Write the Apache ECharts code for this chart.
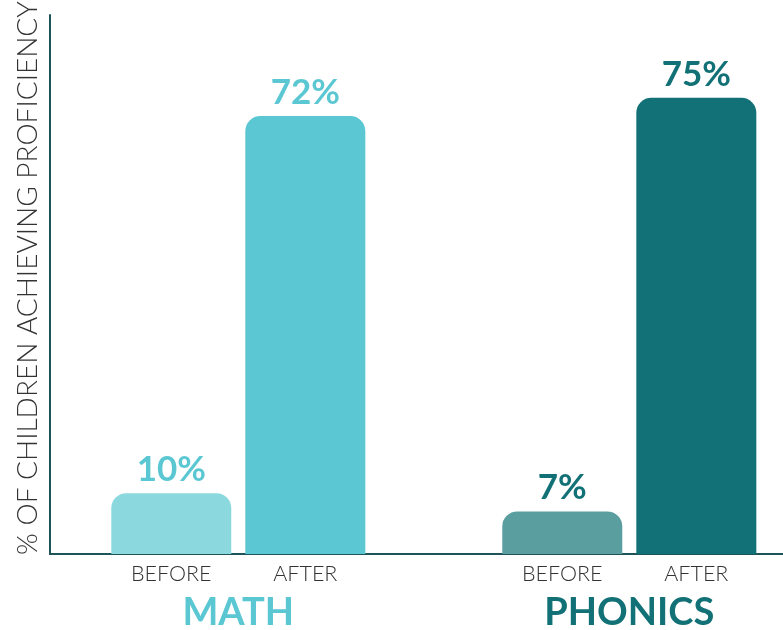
<!DOCTYPE html>
<html>
<head>
<meta charset="utf-8">
<script src="https://cdn.jsdelivr.net/npm/echarts@6/dist/echarts.min.js"></script>
<style>
html,body{margin:0;padding:0;background:#fff;}
#chart{width:783px;height:630px;}
</style>
</head>
<body>
<div id="chart"></div>
<script>
// ---- data ----
var groups = ['MATH', 'PHONICS'];
var phases = ['BEFORE', 'AFTER'];
var beforeValues = [10, 7];
var afterValues = [72, 75];
var yAxisTitle = '% OF CHILDREN ACHIEVING PROFICIENCY';

// ---- styles ----
var beforeColors = ['#8bd9df', '#5a9ea0'];
var afterColors = ['#5ac7d2', '#127176'];
var groupColors = ['#5ac7d2', '#127176'];
var axisColor = '#1e5357';
var yMax = 88.6;

function items(values, colors) {
  return values.map(function (v, i) {
    return { value: v, itemStyle: { color: colors[i] }, label: { color: groupColors[i] } };
  });
}

var rich = {
  ph: { width: 134, align: 'center', fontSize: 21.5, fontWeight: 300, fontFamily: 'Lato', color: '#333', lineHeight: 30 }
};
groups.forEach(function (g, i) {
  rich['g' + i] = { fontSize: 38, fontWeight: 'bold', fontFamily: 'Lato', color: groupColors[i], lineHeight: 48 };
});

var labelCfg = {
  show: true, position: 'top', distance: 6,
  formatter: '{c}%', fontSize: 35, fontWeight: 'bold', fontFamily: 'Lato'
};

var chart = echarts.init(document.getElementById('chart'), null, { renderer: 'canvas' });
chart.setOption({
  animation: false,
  grid: [
    { left: 42.8, width: 782, top: 15, bottom: 76, outerBoundsMode: 'none', containLabel: false },
    { left: 50, right: 0, top: 15, bottom: 76, outerBoundsMode: 'none', containLabel: false }
  ],
  xAxis: [
    {
      type: 'category', gridIndex: 0, data: groups,
      axisLine: { show: false }, axisTick: { show: false },
      axisLabel: {
        margin: 5,
        formatter: function (v, i) {
          return phases.map(function (p) { return '{ph|' + p + '}'; }).join('') + '\n{g' + i + '|' + v + '}';
        },
        rich: rich
      }
    },
    {
      type: 'value', gridIndex: 1, min: 0, max: 1,
      axisLine: { show: true, lineStyle: { color: axisColor, width: 2 } },
      axisTick: { show: false }, axisLabel: { show: false }, splitLine: { show: false }
    }
  ],
  yAxis: [
    {
      type: 'value', gridIndex: 0, min: 0, max: yMax,
      axisLine: { show: false }, axisTick: { show: false }, axisLabel: { show: false }, splitLine: { show: false }
    },
    {
      type: 'value', gridIndex: 1, min: 0, max: yMax,
      axisLine: { show: true, lineStyle: { color: axisColor, width: 2 } },
      axisTick: { show: false }, axisLabel: { show: false }, splitLine: { show: false },
      name: yAxisTitle, nameLocation: 'middle', nameRotate: 90, nameGap: 8,
      nameTextStyle: { fontSize: 28, fontWeight: 300, fontFamily: 'Lato', color: '#333', padding: [0, 0, 0, 13] }
    }
  ],
  series: [
    {
      name: phases[0], type: 'bar', xAxisIndex: 0, yAxisIndex: 0,
      barWidth: 120, barGap: '11.7%',
      itemStyle: { borderRadius: [15, 15, 0, 0] },
      label: labelCfg,
      data: items(beforeValues, beforeColors)
    },
    {
      name: phases[1], type: 'bar', xAxisIndex: 0, yAxisIndex: 0,
      barWidth: 120, barGap: '11.7%',
      itemStyle: { borderRadius: [15, 15, 0, 0] },
      label: labelCfg,
      data: items(afterValues, afterColors)
    }
  ]
});
</script>
</body>
</html>
